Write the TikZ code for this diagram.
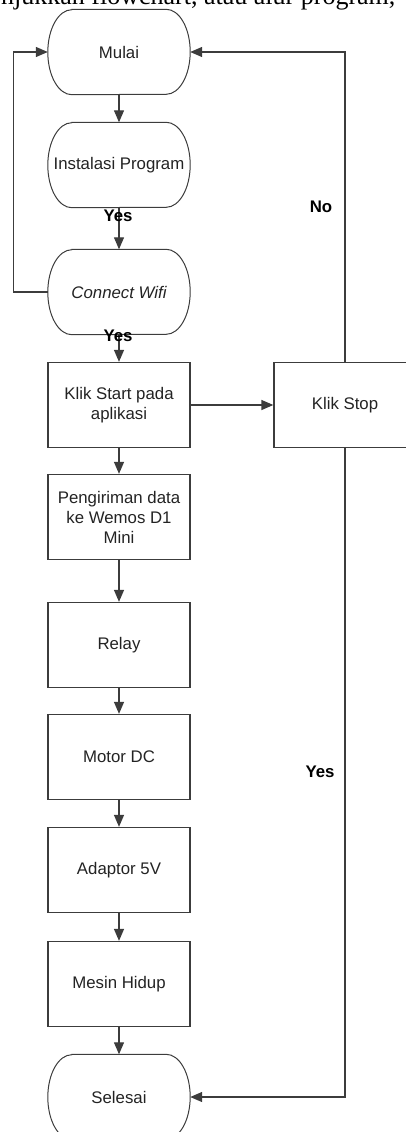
\documentclass[tikz,border=0pt]{standalone}
\usepackage{fontspec}
\setmainfont{Liberation Sans}
\newfontfamily\bodyserif{Liberation Serif}
\usetikzlibrary{arrows.meta}
\definecolor{linecol}{RGB}{60,60,60}
\definecolor{textcol}{RGB}{35,35,35}

\begin{document}
\begin{tikzpicture}[x=1pt, y=1pt,
    box/.style={rectangle, minimum width=142pt, minimum height=85pt, draw=linecol, line width=1.3pt, font=\fontsize{16.8}{20}\selectfont, align=center, text=textcol},
    term/.style={rectangle, minimum width=142pt, minimum height=85pt, font=\fontsize{16.8}{20}\selectfont, align=center, text=textcol},
    termline/.style={draw=linecol, line width=1pt},
    flow/.style={draw=linecol, line width=1.3pt, -{Triangle[length=12pt, width=10pt]}},
    lab/.style={font=\bfseries\fontsize{16.8}{20}\selectfont, text=black},
]
\useasboundingbox (0,0) rectangle (406,-1132);
\clip (0,0) rectangle (406,-1132);

\node[anchor=base west, inner sep=0pt, font=\bodyserif\fontsize{26}{30}\selectfont] (bodyline) at (1,-5) {njukkan flowchart, atau alur program,};

\node[term] (mulai) at (119,-52) {Mulai};
\node[term] (instal) at (119,-165) {Instalasi Program};
\node[term] (wifi) at (119,-292) {\itshape Connect Wifi};
\node[box] (start) at (119,-405) {Klik Start pada\\aplikasi};
\node[box] (stop) at (345,-405) {Klik Stop};
\node[box] (kirim) at (119,-517) {Pengiriman data\\ke Wemos D1\\Mini};
\node[box] (relay) at (119,-645) {Relay};
\node[box] (motor) at (119,-757) {Motor DC};
\node[box] (adaptor) at (119,-870) {Adaptor 5V};
\node[box] (mesin) at (119,-984) {Mesin Hidup};
\node[term] (selesai) at (119,-1097) {Selesai};

% terminal outlines with elliptic ends
\foreach \t in {mulai,instal,wifi,selesai}
  \draw[termline] ([xshift=24pt]\t.north west) -- ([xshift=-24pt]\t.north east)
    arc[start angle=90, end angle=-90, x radius=24pt, y radius=42.5pt]
    -- ([xshift=24pt]\t.south west)
    arc[start angle=270, end angle=90, x radius=24pt, y radius=42.5pt] -- cycle;

\draw[flow] (mulai) -- (instal);
\draw[flow] (instal) -- (wifi);
\draw[flow] (wifi) -- (start);
\draw[flow] (start) -- (kirim);
\draw[flow] (kirim) -- (relay);
\draw[flow] (relay) -- (motor);
\draw[flow] (motor) -- (adaptor);
\draw[flow] (adaptor) -- (mesin);
\draw[flow] (mesin) -- (selesai);
\draw[flow] (start) -- (stop);

\draw[flow] (wifi.west) -- ++(-34,0) |- (mulai.west);
\draw[flow] (stop.north) |- (mulai.east);
\draw[flow] (stop.south) |- (selesai.east);

\node[lab] (yesa) at (118,-216) {Yes};
\node[lab] (yesb) at (118,-336) {Yes};
\node[lab] (no) at (321,-207) {No};
\node[lab] (yesc) at (320,-772) {Yes};
\end{tikzpicture}
\end{document}
